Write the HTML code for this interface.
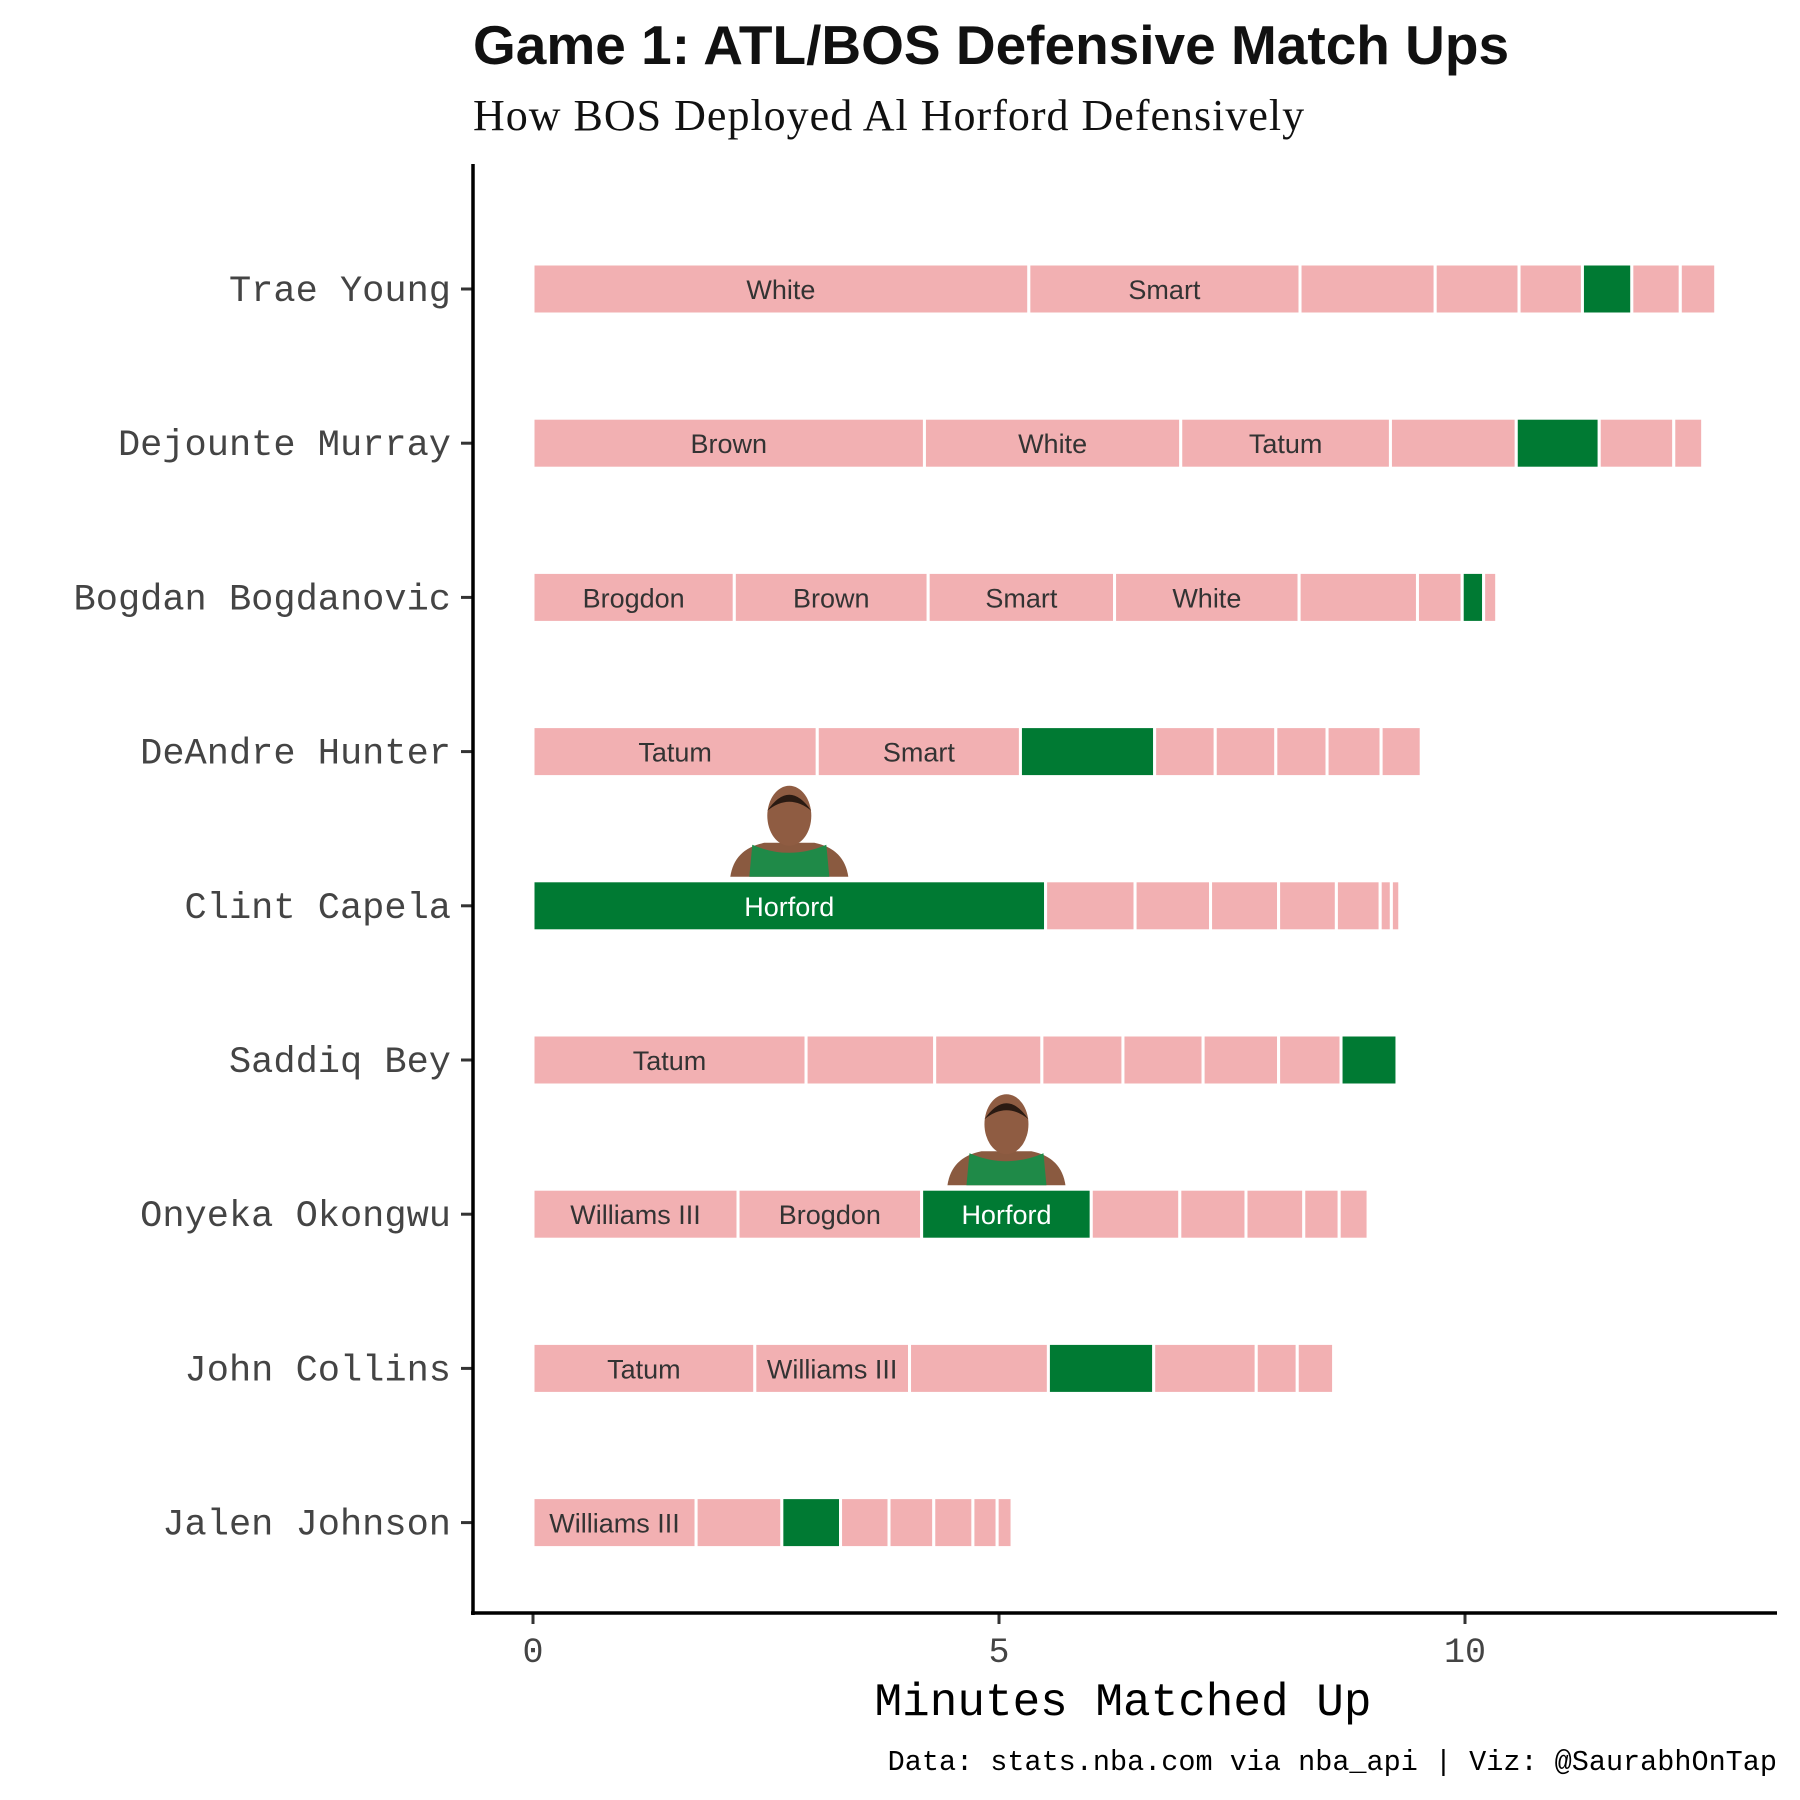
<!DOCTYPE html>
<html><head><meta charset="utf-8"><style>
html,body{margin:0;padding:0;background:#fff}
svg{display:block}
</style></head><body>
<svg id="chart" width="1800" height="1800" xmlns="http://www.w3.org/2000/svg">
<text x="473" y="64" font-family="Liberation Sans, sans-serif" font-weight="bold" font-size="55" fill="#111">Game 1: ATL/BOS Defensive Match Ups</text>
<text x="473" y="130" font-family="Liberation Serif, serif" font-size="44" letter-spacing="1" fill="#111">How BOS Deployed Al Horford Defensively</text>
<g id="bars"></g>
<g id="axes"></g>
<text x="1123" y="1715" text-anchor="middle" font-family="Liberation Mono, monospace" font-size="46" fill="#000">Minutes Matched Up</text>
<text x="1777" y="1770" text-anchor="end" font-family="Liberation Mono, monospace" font-size="28.5" fill="#000">Data: stats.nba.com via nba_api | Viz: @SaurabhOnTap</text>
</svg>
<script>
const players = ["Trae Young","Dejounte Murray","Bogdan Bogdanovic","DeAndre Hunter","Clint Capela","Saddiq Bey","Onyeka Okongwu","John Collins","Jalen Johnson"];
const minutes = [
 [5.32,2.91,1.45,0.90,0.68,0.53,0.52,0.38],
 [4.20,2.75,2.25,1.35,0.89,0.80,0.31],
 [2.16,2.08,2.00,1.98,1.27,0.48,0.23,0.14],
 [3.05,2.18,1.44,0.65,0.65,0.55,0.58,0.43],
 [5.50,0.96,0.81,0.73,0.62,0.47,0.12,0.09],
 [2.93,1.38,1.15,0.87,0.86,0.81,0.67,0.60],
 [2.20,1.97,1.82,0.95,0.71,0.62,0.38,0.31],
 [2.38,1.66,1.49,1.13,1.10,0.44,0.39],
 [1.75,0.92,0.63,0.52,0.48,0.42,0.26,0.16]
];
const horfordIndex = [5,4,6,2,0,7,2,3,2];
const labels = [
 ["White","Smart","","","","","",""],
 ["Brown","White","Tatum","","","",""],
 ["Brogdon","Brown","Smart","White","","","",""],
 ["Tatum","Smart","","","","","",""],
 ["Horford","","","","","","",""],
 ["Tatum","","","","","","",""],
 ["Williams III","Brogdon","Horford","","","","",""],
 ["Tatum","Williams III","","","","",""],
 ["Williams III","","","","","","",""]
];
const headshotRows = [4,6];
const xTicks = [0,5,10];

const NS="http://www.w3.org/2000/svg";
const x = v => 533 + v*93.2;
const y = i => 289 + i*154.2;
const BH = 50;
function mk(tag, attrs, parent){const e=document.createElementNS(NS,tag);for(const k in attrs)e.setAttribute(k,attrs[k]);parent.appendChild(e);return e;}
const bars=document.getElementById('bars'), axes=document.getElementById('axes');

players.forEach((p,i)=>{
  let cum=0;
  minutes[i].forEach((m,j)=>{
    const d=labels[i][j];
    const isH=horfordIndex[i]===j;
    const r=mk('rect',{x:x(cum),y:y(i)-BH/2,width:x(cum+m)-x(cum),height:BH,fill:isH?'#007A33':'#F2B0B2',stroke:'#fff','stroke-width':3},bars);
    
    
    if(d){
      const t=mk('text',{x:(x(cum)+x(cum+m))/2,y:y(i)+10,'text-anchor':'middle','font-family':'Liberation Sans, sans-serif','font-size':27,fill:isH?'#fff':'#333'},bars);
      t.textContent=d;
      
      
    }
    if(isH && headshotRows.includes(i)){
      const cx=(x(cum)+x(cum+m))/2, top=y(i)-BH/2;
      const g=mk('g',{},bars);
      
      
      mk('path',{d:`M${cx-59} ${top-4} Q${cx-55} ${top-32} ${cx-25} ${top-38} L${cx+25} ${top-38} Q${cx+55} ${top-32} ${cx+59} ${top-4} Z`,fill:'#8a5a40'},g);
      mk('path',{d:`M${cx-40} ${top-4} L${cx-37} ${top-36} Q${cx} ${top-20} ${cx+37} ${top-36} L${cx+40} ${top-4} Z`,fill:'#1f8a48'},g);
      mk('rect',{x:cx-10,y:top-70,width:20,height:30,fill:'#7a4a32'},g);
      mk('ellipse',{cx:cx,cy:top-65,rx:22,ry:30,fill:'#8f5c42'},g);
      mk('path',{d:`M${cx-22} ${top-70} Q${cx} ${top-102} ${cx+22} ${top-70} Q${cx} ${top-88} ${cx-22} ${top-70}Z`,fill:'#2a1a12'},g);
    }
    cum+=m;
  });
  const tk=mk('line',{x1:461,x2:472,y1:y(i),y2:y(i),stroke:'#333','stroke-width':3},axes);
  
  
  const lb=mk('text',{x:451,y:y(i)+12,'text-anchor':'end','font-family':'Liberation Mono, monospace','font-size':37,fill:'#444'},axes);
  lb.textContent=p;
  
  
});
xTicks.forEach(v=>{
  const tk=mk('line',{x1:x(v),x2:x(v),y1:1613,y2:1624,stroke:'#333','stroke-width':3},axes);
  
  
  const lb=mk('text',{x:x(v),y:1662,'text-anchor':'middle','font-family':'Liberation Mono, monospace','font-size':35,fill:'#444'},axes);
  lb.textContent=v;
  
  
});
const ya=mk('line',{x1:473,x2:473,y1:164,y2:1615,stroke:'#000','stroke-width':3.5},axes);


const xa=mk('line',{x1:471,x2:1777,y1:1613,y2:1613,stroke:'#000','stroke-width':3.5},axes);


</script>
</body></html>
